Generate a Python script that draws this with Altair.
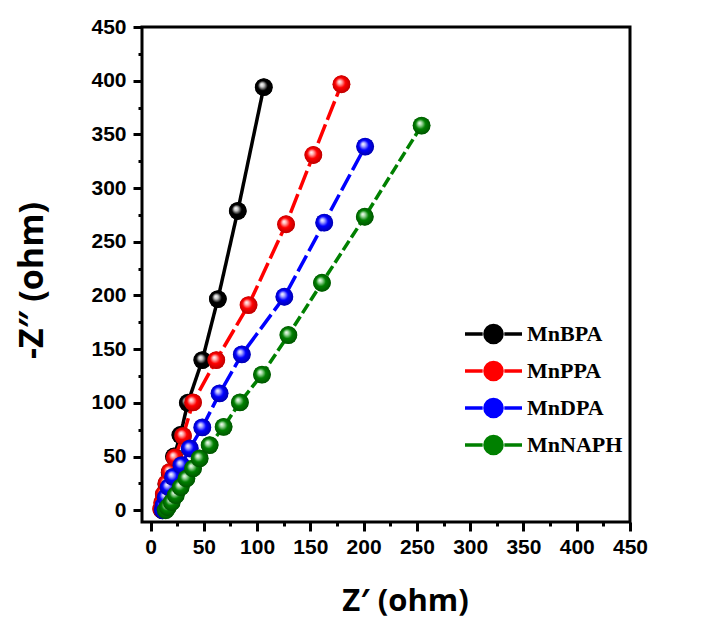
import altair as alt
import pandas as pd

series = ["MnBPA", "MnPPA", "MnDPA", "MnNAPH"]
colors = ["#000000", "#ff0000", "#0000ff", "#008000"]
highlights = ["#c8c8c8", "#ffb0b0", "#b0b0ff", "#a8dca8"]
darks = ["#000000", "#b00000", "#0000a0", "#004d00"]
dashes = [[1, 0], [20, 5], [18, 5], [11, 4]]

x_bpa = [11, 12, 13, 15, 18, 22, 28, 35, 48.6, 63.2, 81.9, 106.3]
y_bpa = [0, 6, 14, 24, 35, 50, 70, 100, 139.8, 196.6, 278.7, 394]
x_ppa = [10, 11, 12.5, 15, 18.1, 22.7, 30.5, 39.9, 61.7, 92, 127.2, 152.8, 179.2]
y_ppa = [1, 7, 15, 25, 35.7, 49.1, 69.2, 100.4, 139.8, 191, 266.3, 330.8, 396.7]
x_dpa = [11.5, 12.4, 14.3, 17, 21.1, 29, 36.8, 48.6, 64.8, 85.7, 125.6, 163, 201.4]
y_dpa = [0, 4.7, 12, 21.4, 31, 41.9, 57.5, 77.1, 108.8, 145.1, 198.8, 267.8, 338.6]
x_naph = [14.3, 16.2, 19.9, 23.7, 28.3, 33.7, 39.9, 46.1, 55.5, 68.6, 83.9, 104.6, 129.4, 160.9, 201.1, 254.4]
y_naph = [0, 2.8, 7.5, 14, 21.4, 29.5, 38.9, 48.2, 60.6, 77.6, 100.4, 126.3, 163.1, 211.8, 273.3, 358.2]

tick_vals = list(range(0, 451, 25))

xs = [x_bpa, x_ppa, x_dpa, x_naph]
ys = [y_bpa, y_ppa, y_dpa, y_naph]
frames = []
for s, xv, yv in zip(series, xs, ys):
    frames.append(pd.DataFrame({"series": s, "x": xv, "y": yv, "i": range(len(xv))}))
df = pd.concat(frames, ignore_index=True)

major = "datum.value % 50 === 0"
x_axis = alt.Axis(
    values=tick_vals, grid=False, domain=False,
    tickSize={"condition": {"test": major, "value": 9}, "value": 4},
    tickWidth=3, tickColor="black",
    labelExpr="datum.value % 50 === 0 ? datum.label : ''",
    labelFont="Liberation Sans", labelFontWeight="bold", labelFontSize=21,
    labelColor="black", labelPadding=5, labelFlush=False,
    title="Z\u2032 (ohm)", titleFont="Open Sans", titleFontWeight="bold",
    titleFontSize=31, titleColor="black", titleX=263, titleY=88,
    titleBaseline="alphabetic", titleAlign="center",
)
y_axis = alt.Axis(
    values=tick_vals, grid=False, domain=False,
    tickSize={"condition": {"test": major, "value": 9}, "value": 4},
    tickWidth=3, tickColor="black",
    labelExpr="datum.value % 50 === 0 ? datum.label : ''",
    labelFont="Liberation Sans", labelFontWeight="bold", labelFontSize=21,
    labelColor="black", labelPadding=7, labelFlush=False,
    title="-Z\u2033 (ohm)", titleFont="Open Sans", titleFontWeight="bold",
    titleFontSize=34, titleColor="black", titleX=-100, titleY=253,
    titleBaseline="alphabetic", titleAlign="center", titleAngle=-90,
)

xs_scale = alt.Scale(domain=[-8, 450], nice=False, zero=False)
ys_scale = alt.Scale(domain=[-11, 450], nice=False, zero=False)

X = alt.X("x:Q", scale=xs_scale, axis=x_axis)
Y = alt.Y("y:Q", scale=ys_scale, axis=y_axis)

legend_path = ("M -1 0 L -0.38 0 M 0.38 0 L 1 0 "
               "M 0.3 0 A 0.3 0.3 0 1 1 -0.3 0 A 0.3 0.3 0 1 1 0.3 0 Z")
leg = alt.Legend(
    title=None, orient="none", legendX=321, legendY=296, padding=0,
    symbolType=legend_path, symbolSize=3249, symbolStrokeWidth=3.5,
    symbolOpacity=1, clipHeight=22, rowPadding=15, labelOffset=3,
    labelFont="Liberation Serif", labelFontWeight="bold", labelFontSize=22,
    labelColor="black", symbolOffset=0,
)
cscale = alt.Scale(domain=series, range=colors)

legend_layer = alt.Chart(df).mark_point(filled=True, size=300, opacity=1, strokeWidth=0).encode(
    x=X, y=Y,
    fill=alt.Fill("series:N", scale=cscale, legend=leg, sort=series),
    stroke=alt.Stroke("series:N", scale=cscale, legend=leg, sort=series),
)

layers = [legend_layer]
for s, c, h, d, dash in zip(series, colors, highlights, darks, dashes):
    sub = alt.Chart(df).transform_filter(alt.datum.series == s)
    line = sub.mark_line(color=c, strokeWidth=3.5, strokeDash=dash).encode(
        x=X, y=Y, order="i:Q")
    grad = {
        "gradient": "radial", "x1": 0.38, "y1": 0.35, "r1": 0,
        "x2": 0.5, "y2": 0.5, "r2": 0.55,
        "stops": [
            {"offset": 0, "color": "#ffffff"},
            {"offset": 0.2, "color": h},
            {"offset": 0.5, "color": c},
            {"offset": 1, "color": d},
        ],
    }
    balls = sub.mark_point(filled=True, size=320, fill=grad, opacity=1, strokeWidth=0).encode(
        x=X, y=Y)
    layers += [line, balls]

chart = alt.layer(*layers).properties(
    width=488, height=495,
    background="white",
    autosize=alt.AutoSizeParams(type="none"),
    padding={"left": 142, "top": 27, "right": 87, "bottom": 96},
).configure_view(stroke="black", strokeWidth=3)

chart.save("out.html", embed_options={"renderer": "svg", "actions": False})
